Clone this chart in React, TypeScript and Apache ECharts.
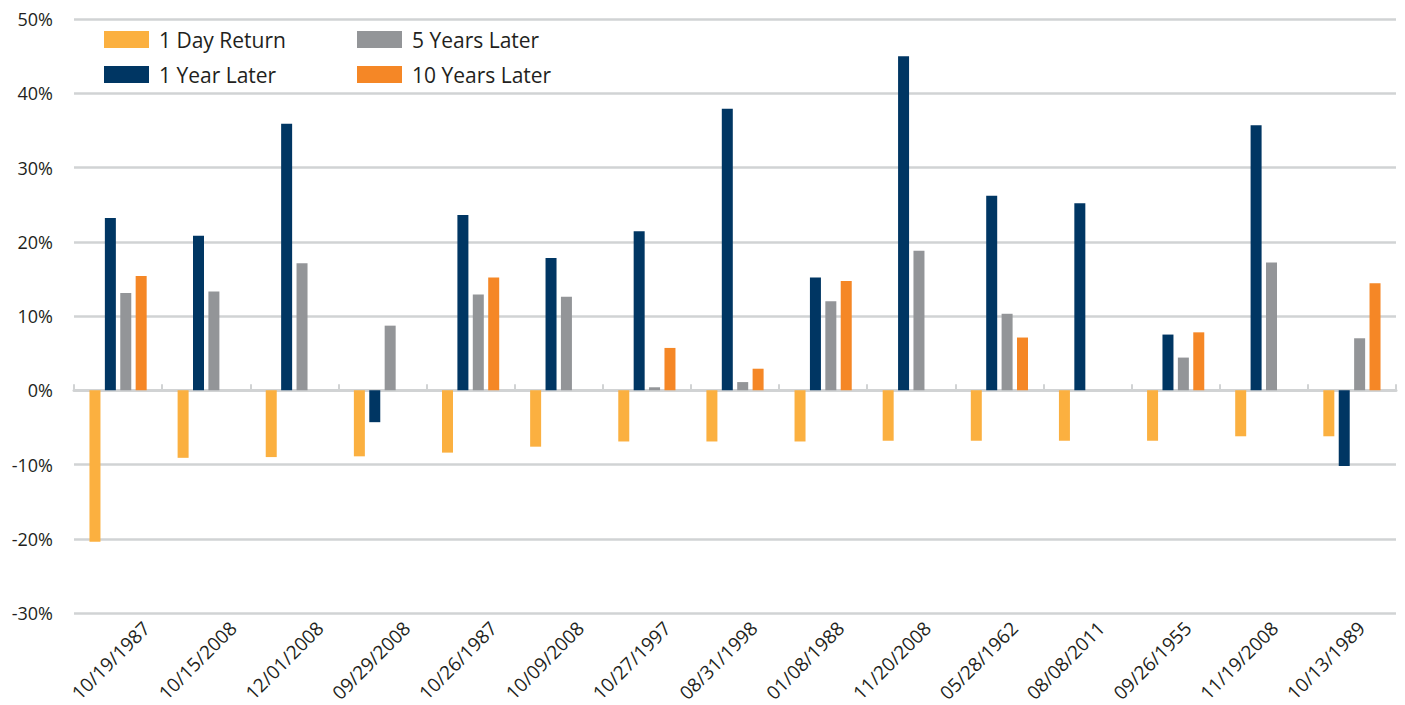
import React, { useEffect, useRef } from "react";
import * as echarts from "echarts";

const categories = [
  "10/19/1987", "10/15/2008", "12/01/2008", "09/29/2008", "10/26/1987",
  "10/09/2008", "10/27/1997", "08/31/1998", "01/08/1988", "11/20/2008",
  "05/28/1962", "08/08/2011", "09/26/1955", "11/19/2008", "10/13/1989",
];
const oneDay = [-20.4, -9.1, -9.0, -8.9, -8.4, -7.6, -6.9, -6.9, -6.9, -6.8, -6.8, -6.8, -6.8, -6.2, -6.2];
const oneYear = [23.2, 20.8, 35.9, -4.3, 23.6, 17.8, 21.4, 37.9, 15.2, 45.0, 26.2, 25.2, 7.5, 35.7, -10.2];
const fiveYears = [13.1, 13.3, 17.1, 8.7, 12.9, 12.6, 0.4, 1.1, 12.0, 18.8, 10.3, null, 4.4, 17.2, 7.0];
const tenYears = [15.4, null, null, null, 15.2, null, 5.7, 2.9, 14.7, null, 7.1, null, 7.8, null, 14.4];
const seriesNames = ["1 Day Return", "1 Year Later", "5 Years Later", "10 Years Later"];
const colors = ["#FBB040", "#003663", "#939598", "#F58726"];

const FONT = "'Open Sans', sans-serif";
const TEXT = "#231f20";

export default function App() {
  const ref = useRef<HTMLDivElement>(null);
  useEffect(() => {
    if (!ref.current) return;
    const chart = echarts.init(ref.current, null, { renderer: "svg" });
    const data = [oneDay, oneYear, fiveYears, tenYears];
    const legendBase = {
      orient: "vertical",
      top: 24,
      itemWidth: 45,
      itemHeight: 17,
      itemGap: 14,
      icon: "rect",
      textStyle: { fontFamily: FONT, fontSize: 21, color: TEXT, lineHeight: 21, padding: [0, 0, 0, 5] },
    };
    chart.setOption({
      animation: false,
      backgroundColor: "#ffffff",
      textStyle: { fontFamily: FONT },
      legend: [
        { ...legendBase, data: [seriesNames[0], seriesNames[1]], left: 99 },
        { ...legendBase, data: [seriesNames[2], seriesNames[3]], left: 352 },
      ],
      grid: [
        { left: 74, top: 19, width: 1322, height: 594 },
        { left: 103, top: 19, width: 1322, height: 594 },
      ],
      xAxis: [
        {
          type: "category",
          gridIndex: 0,
          data: categories,
          axisLine: { show: true, onZero: true, lineStyle: { color: "#d1d3d4", width: 3 } },
          axisTick: { show: true, inside: true, length: 6, lineStyle: { color: "#d1d3d4", width: 2 } },
          axisLabel: { show: false },
          splitLine: { show: false },
        },
        {
          type: "category",
          gridIndex: 1,
          data: categories,
          axisLine: { show: false, onZero: false },
          axisTick: { show: false },
          axisLabel: {
            show: true,
            rotate: 45,
            margin: 13,
            interval: 0,
            fontFamily: FONT,
            fontSize: 19,
            color: TEXT,
          },
        },
      ],
      yAxis: [
        {
          type: "value",
          gridIndex: 0,
          min: -30,
          max: 50,
          interval: 10,
          axisLine: { show: false },
          axisTick: { show: false },
          axisLabel: {
            formatter: "{value}%",
            margin: 21,
            fontFamily: FONT,
            fontSize: 18,
            color: TEXT,
            padding: [0, 0, 10, 0],
          },
          splitLine: { show: true, lineStyle: { color: "#d1d3d4", width: 2.5 } },
        },
        {
          type: "value",
          gridIndex: 1,
          min: -30,
          max: 50,
          interval: 10,
          show: false,
        },
      ],
      series: seriesNames.map((name, i) => ({
        name,
        type: "bar",
        xAxisIndex: 0,
        yAxisIndex: 0,
        data: data[i],
        barWidth: 11,
        barGap: "40%",
        itemStyle: { color: colors[i] },
      })),
    });
    return () => chart.dispose();
  }, []);
  return (
    <div
      ref={ref}
      style={{ position: "fixed", left: 0, top: 0, width: 1405, height: 705, background: "#fff" }}
    />
  );
}
